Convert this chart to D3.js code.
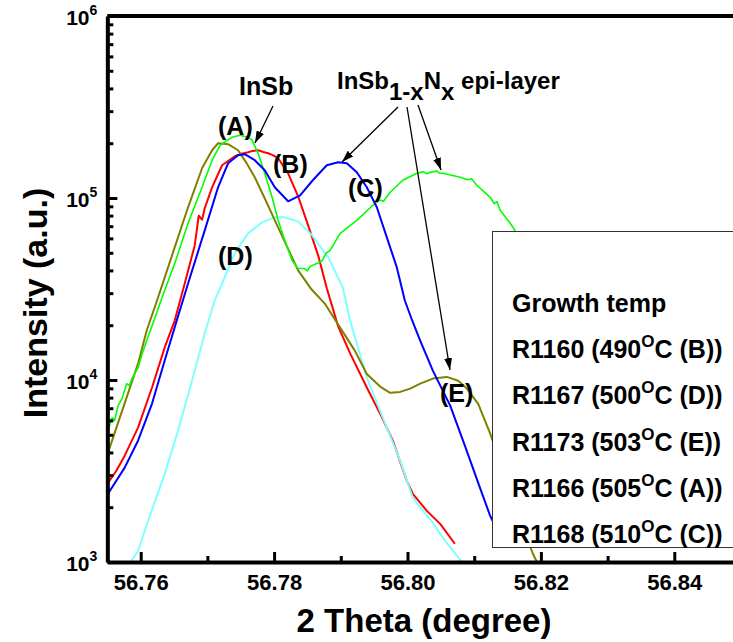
<!DOCTYPE html>
<html>
<head>
<meta charset="utf-8">
<script src="https://cdn.jsdelivr.net/npm/d3@7"></script>
<style>
  body { margin: 0; background: #fff; }
  svg { display: block; font-family: "Liberation Sans", Arial, sans-serif; font-weight: bold; }
</style>
</head>
<body>
<script>
// 2-theta (degree) vs intensity (a.u.)
const r1160 = [ // (B) red
  [56.7551, 2720], [56.7563, 3150], [56.7576, 3840], [56.7596, 5470], [56.7617, 9090], [56.7636, 15100],
  [56.7651, 21200], [56.7666, 33900], [56.7681, 54900], [56.7687, 80000], [56.7692, 76000],
  [56.7696, 87800], [56.7707, 114500], [56.7722, 151400], [56.7741, 169600], [56.7751, 175000],
  [56.7761, 178400], [56.7768, 181500], [56.7776, 183000], [56.7784, 179000], [56.7791, 176200],
  [56.7798, 172000], [56.7806, 165400], [56.7821, 136700], [56.7836, 102200], [56.7851, 70700],
  [56.7866, 48400], [56.7879, 31900], [56.7896, 19700], [56.7914, 14000], [56.7939, 9090],
  [56.7959, 6530], [56.7978, 4640], [56.7999, 2790], [56.8008, 2370], [56.8029, 1910],
  [56.8049, 1620], [56.8071, 1260]
];
const r1167 = [ // (D) cyan
  [56.7584, 990], [56.7596, 1150], [56.7611, 1680], [56.7636, 3050], [56.7656, 5270],
  [56.7677, 9930], [56.7696, 18000], [56.7711, 27400], [56.7722, 33900], [56.7741, 49600],
  [56.7761, 63900], [56.7782, 73500], [56.7801, 78300], [56.7816, 78300], [56.7836, 74400],
  [56.7857, 62300], [56.7881, 47200], [56.7903, 32300], [56.7914, 21200], [56.7939, 10300],
  [56.7963, 6210], [56.7989, 3600], [56.8008, 2250], [56.8038, 1640], [56.8056, 1310],
  [56.8071, 1120], [56.8083, 990]
];
const r1173 = [ // (E) olive
  [56.7551, 3990], [56.7596, 12300], [56.7609, 18700], [56.7626, 28400], [56.7647, 48400],
  [56.7671, 88900], [56.7692, 145700], [56.7707, 183000], [56.7716, 200000], [56.7731, 197500],
  [56.7746, 183000], [56.7758, 157000], [56.7771, 130000], [56.7788, 96000], [56.7806, 69000],
  [56.7821, 52500], [56.7836, 40000], [56.7856, 31500], [56.7876, 26300],
  [56.7899, 19400], [56.7921, 14500], [56.7939, 10800], [56.7959, 9200], [56.7974, 8500],
  [56.7989, 8600], [56.8004, 8970], [56.8019, 9550], [56.8038, 10180], [56.8059, 10400],
  [56.8076, 9900], [56.8089, 8970], [56.8106, 7400], [56.8124, 5070], [56.8154, 2460],
  [56.8172, 1580], [56.8188, 1110], [56.8194, 1000]
];
const r1166 = [ // (A) green
  [56.7551, 5270], [56.7557, 6210], [56.7561, 6000], [56.7566, 7230], [56.7572, 7900], [56.7579, 9560],
  [56.7583, 9300], [56.7587, 10200], [56.7596, 11700], [56.7603, 14200], [56.7609, 16500], [56.7621, 21800],
  [56.7632, 28400], [56.7651, 43700], [56.7671, 72600], [56.7692, 114500], [56.7707, 161300],
  [56.7719, 194900], [56.7737, 215800], [56.7749, 221300], [56.7761, 215800], [56.7767, 207800],
  [56.7776, 176200], [56.7786, 136700], [56.7797, 100900], [56.7806, 75400], [56.7816, 58500],
  [56.7827, 45400], [56.7836, 41000], [56.7845, 41000], [56.7850, 39800], [56.7854, 42100],
  [56.7864, 43700], [56.7872, 45200], [56.7878, 49800], [56.7884, 51500], [56.7899, 63900],
  [56.7924, 75400], [56.7948, 91200], [56.7958, 97500], [56.7964, 96000],
  [56.7974, 107500], [56.7993, 125200], [56.8014, 136700], [56.8024, 139500], [56.8028, 136000],
  [56.8034, 138500], [56.8044, 140500], [56.8048, 137000], [56.8053, 136700],
  [56.8079, 130000], [56.8090, 126000], [56.8096, 127500], [56.8104, 117500], [56.8124, 100900],
  [56.8130, 93000], [56.8134, 95500], [56.8139, 85600], [56.8154, 72600], [56.8163, 64700]
];
const r1168 = [ // (C) blue
  [56.7551, 2370], [56.7576, 3300], [56.7596, 4640], [56.7617, 7420], [56.7636, 12800],
  [56.7654, 21200], [56.7671, 33900], [56.7696, 66400], [56.7716, 114500], [56.7731, 155200],
  [56.7746, 171800], [56.7756, 174000], [56.7771, 161300], [56.7786, 142100], [56.7801, 114500],
  [56.7821, 95900], [56.7839, 103500], [56.7858, 125200], [56.7879, 151400], [56.7896, 157200],
  [56.7909, 155200], [56.7924, 138500], [56.7939, 114500], [56.7954, 88900], [56.7969, 60800],
  [56.7984, 41550], [56.7996, 27350], [56.8007, 21230], [56.8019, 16470], [56.8038, 11260],
  [56.8064, 7230], [56.8086, 4360], [56.8106, 2720], [56.8124, 1790], [56.8139, 1390]
];

const xMajor = [56.76, 56.78, 56.80, 56.82, 56.84];
const xMinor = [56.77, 56.79, 56.81, 56.83, 56.85];
const yMajor = [1e3, 1e4, 1e5, 1e6];

const sampleIds = ['R1160', 'R1167', 'R1173', 'R1166', 'R1168'];
const growthTemps = [490, 500, 503, 505, 510];
const peakLabels = ['B', 'D', 'E', 'A', 'C'];

let width = 733, height = 642;
let plot = {left: 107.35, right: 774.35, top: 16, bottom: 562};

let svg = d3.select('body')
    .append('svg')
    .attr('width', width)
    .attr('height', height);

// scales
let xScale = d3.scaleLinear()
    .domain([56.755, 56.855])
    .range([plot.left, plot.right]);

let yScale = d3.scaleLog()
    .domain([1e3, 1e6])
    .range([plot.bottom, plot.top]);

let defs = svg.append('defs');
defs.append('clipPath').attr('id', 'clip')
  .append('rect')
    .attr('x', plot.left)
    .attr('y', plot.top)
    .attr('width', plot.right - plot.left)
    .attr('height', plot.bottom - plot.top);

defs.append('marker')
    .attr('id', 'arrow')
    .attr('viewBox', '0 0 12 8')
    .attr('refX', 12)
    .attr('refY', 4)
    .attr('markerWidth', 12)
    .attr('markerHeight', 8)
    .attr('markerUnits', 'userSpaceOnUse')
    .attr('orient', 'auto')
  .append('path')
    .attr('d', 'M0,0L12,4L0,8Z')
    .attr('fill', '#000');

// curves
let line = d3.line()
    .x(d => xScale(d[0]))
    .y(d => yScale(d[1]));

let series = [
  {data: r1160, color: '#ff0000', w: 2},
  {data: r1167, color: '#80ffff', w: 2},
  {data: r1173, color: '#808000', w: 2},
  {data: r1166, color: '#00ff00', w: 1.6},
  {data: r1168, color: '#0000ff', w: 2}
];

svg.append('g')
    .attr('clip-path', 'url(#clip)')
  .selectAll('path')
  .data(series)
  .enter()
  .append('path')
    .attr('d', d => line(d.data))
    .attr('fill', 'none')
    .attr('stroke', d => d.color)
    .attr('stroke-width', d => d.w)
    .attr('stroke-linejoin', 'round');

// x axis
let xAxis = svg.append('g')
    .attr('transform', `translate(0, ${plot.bottom})`)
    .call(d3.axisBottom(xScale).tickValues(xMajor).tickFormat(d3.format('.2f'))
      .tickSize(-10).tickSizeOuter(0).tickPadding(12));

svg.append('g')
    .attr('transform', `translate(0, ${plot.bottom})`)
    .call(d3.axisBottom(xScale).tickValues(xMinor).tickFormat('').tickSize(-6).tickSizeOuter(0))
    .call(g => g.select('.domain').remove());

// y axis
let yAxis = svg.append('g')
    .attr('transform', `translate(${plot.left}, 0)`)
    .call(d3.axisLeft(yScale).tickValues(yMajor).tickSize(-10).tickSizeOuter(0).tickPadding(10));

let yMinor = [];
yMajor.slice(0, 3).forEach(p => { for (let k = 2; k <= 9; k++) yMinor.push(p * k); });

svg.append('g')
    .attr('transform', `translate(${plot.left}, 0)`)
    .call(d3.axisLeft(yScale).tickValues(yMinor).tickFormat('').tickSize(-6).tickSizeOuter(0))
    .call(g => g.select('.domain').remove());

yAxis.selectAll('.tick text').each(function(d) {
  let t = d3.select(this).text('').attr('dy', null).attr('y', 8);
  t.append('tspan').text('10');
  t.append('tspan').attr('dy', -10).style('font-size', '14px').text(Math.round(Math.log10(d)));
});

svg.selectAll('.domain').attr('stroke', '#000').attr('stroke-width', 4);
svg.selectAll('.tick line').attr('stroke', '#000').attr('stroke-width', 3);
xAxis.selectAll('.tick text').style('font-size', '22px').attr('fill', '#000');
yAxis.selectAll('.tick text').style('font-size', '21px').attr('fill', '#000');

// top frame line
svg.append('line')
    .attr('x1', plot.left).attr('x2', plot.right)
    .attr('y1', plot.top).attr('y2', plot.top)
    .attr('stroke', '#000')
    .attr('stroke-width', 4);

// axis titles
svg.append('text')
    .attr('x', 424)
    .attr('y', 632)
    .attr('text-anchor', 'middle')
    .style('font-size', '33px')
    .text('2 Theta (degree)');

svg.append('text')
    .attr('transform', 'translate(47, 303) rotate(-90)')
    .attr('text-anchor', 'middle')
    .style('font-size', '34px')
    .text('Intensity (a.u.)');

// legend box
svg.append('rect')
    .attr('x', 492.5)
    .attr('y', 231.5)
    .attr('width', 260)
    .attr('height', 316)
    .attr('fill', '#fff')
    .attr('stroke', '#333')
    .attr('stroke-width', 1);

let legend = svg.append('g').style('font-size', '25px');
legend.append('text').attr('x', 512).attr('y', 312).text('Growth temp');
sampleIds.forEach((id, i) => {
  let t = legend.append('text').attr('x', 512).attr('y', 358 + i * 46.3);
  t.append('tspan').text(`${id} (${growthTemps[i]}`);
  t.append('tspan').attr('dy', -11).style('font-size', '17px').text('O');
  t.append('tspan').attr('dy', 11).text(`C (${peakLabels[i]}))`);
});

// annotations
let notes = svg.append('g').style('font-size', '25px');
[['(A)', 218, 135], ['(B)', 273, 173], ['(C)', 348, 197], ['(D)', 218, 265], ['(E)', 440, 402], ['InSb', 239, 95]]
  .forEach(n => notes.append('text').attr('x', n[1]).attr('y', n[2]).text(n[0]));

let epi = notes.append('text').attr('x', 337).attr('y', 89).style('font-size', '24px');
epi.append('tspan').text('InSb');
epi.append('tspan').attr('dy', 11).text('1-x');
epi.append('tspan').attr('dy', -11).text('N');
epi.append('tspan').attr('dy', 11).text('x');
epi.append('tspan').attr('dy', -11).text(' epi-layer');

[[273, 106, 255, 143], [398, 107, 342, 162], [407, 107, 450, 370], [418, 105, 441, 170]]
  .forEach(a => svg.append('line')
    .attr('x1', a[0]).attr('y1', a[1]).attr('x2', a[2]).attr('y2', a[3])
    .attr('stroke', '#000')
    .attr('stroke-width', 1.3)
    .attr('marker-end', 'url(#arrow)'));
</script>
</body>
</html>
